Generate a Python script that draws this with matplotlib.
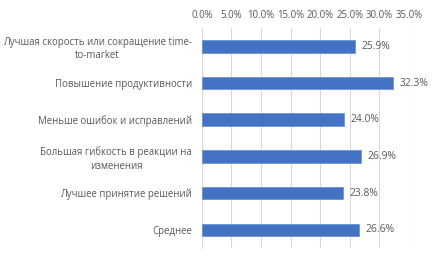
import matplotlib.pyplot as plt
from matplotlib.ticker import PercentFormatter

categories = [
    "Лучшая скорость или сокращение time-\nto-market",
    "Повышение продуктивности",
    "Меньше ошибок и исправлений",
    "Большая гибкость в реакции на\nизменения",
    "Лучшее принятие решений",
    "Среднее",
]
values = [25.9, 32.3, 24.0, 26.9, 23.8, 26.6]
ticks = [0, 5, 10, 15, 20, 25, 30, 35]

text_color = "#595959"
plt.rcParams["font.family"] = ["Open Sans", "DejaVu Sans"]

fig = plt.figure(figsize=(4.36, 2.62), dpi=100)
ax = fig.add_axes([0.463, 0.053, 0.475, 0.840])

pos = list(range(len(categories)))
bars = ax.barh(pos, values, height=0.34, color="#4472C4",
               edgecolor="#6F93D6", linewidth=0.6, zorder=3)
for b, v in zip(bars, values):
    ax.text(b.get_width() + 1.1, b.get_y() + b.get_height() / 2, f"{v:.1f}%",
            va="center", ha="left", fontsize=7.4, color=text_color)

ax.set_xlim(0, 35)
ax.set_ylim(len(categories) - 0.5, -0.5)
ax.set_xticks(ticks)
ax.xaxis.set_major_formatter(PercentFormatter(decimals=1))
ax.xaxis.tick_top()
ax.set_yticks(pos)
ax.set_yticklabels(categories, ha="right", multialignment="center",
                   linespacing=1.3)
ax.tick_params(axis="y", length=0, pad=7, labelsize=6.9, labelcolor=text_color)
ax.tick_params(axis="x", length=0, pad=5, labelsize=6.9, labelcolor=text_color)
ax.grid(axis="x", color="#D9D9D9", linewidth=0.8, zorder=0)
for s in ["top", "right", "bottom"]:
    ax.spines[s].set_visible(False)
ax.spines["left"].set_color("#D9D9D9")

fig.savefig("out.png", dpi=100)
